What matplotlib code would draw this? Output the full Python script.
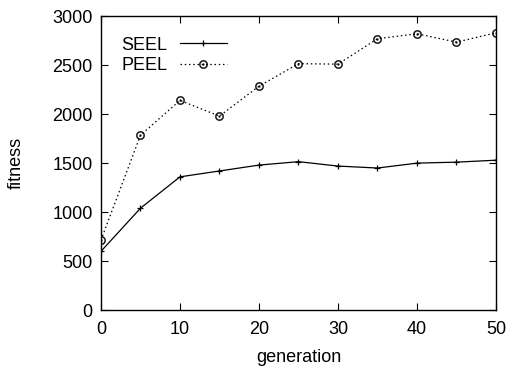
import matplotlib.pyplot as plt

plt.rcParams['font.family'] = ['Liberation Sans', 'DejaVu Sans']

# data
generation = [0, 5, 10, 15, 20, 25, 30, 35, 40, 45, 50]
seel = [600, 1040, 1360, 1420, 1480, 1515, 1470, 1450, 1500, 1510, 1530]
peel = [715, 1785, 2140, 1980, 2285, 2515, 2510, 2770, 2820, 2735, 2830]

fig = plt.figure(figsize=(5.1, 3.67), dpi=100)
ax = fig.add_axes([0.198, 0.155, 0.7745, 0.801])

ax.plot(generation, seel, color='black', lw=0.9, marker='+', ms=5, mew=0.9, label='SEEL')
ax.plot(generation, peel, color='black', lw=0.9, ls=(0, (1.2, 2.2)), marker=r'$\odot$', ms=6,
        mew=0.3, label='PEEL')

ax.set_xlim(0, 50)
ax.set_ylim(0, 3000)
ax.set_xticks(range(0, 51, 10))
ax.set_yticks(range(0, 3001, 500))
for s in ax.spines.values():
    s.set_linewidth(1.0)
ax.tick_params(direction='in', top=True, right=True, length=5, width=0.8,
               labelsize=13)
ax.tick_params(axis='x', pad=8)
ax.tick_params(axis='y', pad=6)
ax.set_xlabel('generation', fontsize=13, labelpad=8)
ax.set_ylabel('fitness', fontsize=13, labelpad=20)

ax.legend(loc='upper left', frameon=False, markerfirst=False, fontsize=13,
          handlelength=2.6, handletextpad=0.7, labelspacing=0.2,
          borderaxespad=0, bbox_to_anchor=(0.033, 0.955))

fig.savefig('out.png', dpi=100)
